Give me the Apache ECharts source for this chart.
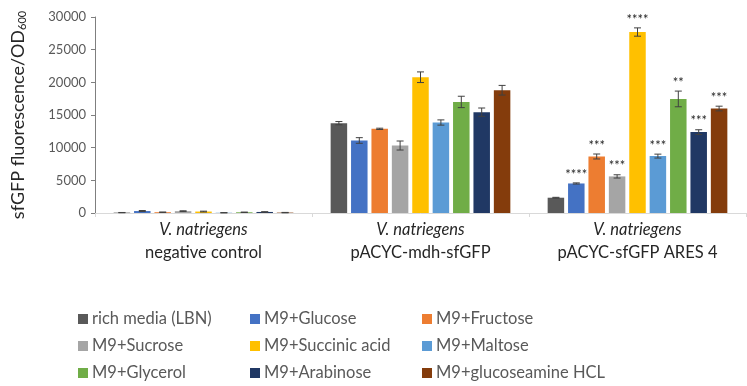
<!DOCTYPE html>
<html><head><meta charset="utf-8">
<script src="https://cdn.jsdelivr.net/npm/echarts@6/dist/echarts.min.js"></script>
<style>html,body{margin:0;padding:0;background:#fff}#c{width:747px;height:386px}</style>
</head><body><div id="c"></div>
<script>
const strainLabel = 'V. natriegens';
const categories = ['negative control', 'pACYC-mdh-sfGFP', 'pACYC-sfGFP ARES 4'];
const seriesNames = ['rich media (LBN)', 'M9+Glucose', 'M9+Fructose', 'M9+Sucrose', 'M9+Succinic acid', 'M9+Maltose', 'M9+Glycerol', 'M9+Arabinose', 'M9+glucoseamine HCL'];
const colors = ['#595959', '#4472C4', '#ED7D31', '#A5A5A5', '#FFC000', '#5B9BD5', '#70AD47', '#203864', '#843C0C'];
// values per series: [negative control, mdh, ARES 4]
const richMedia   = [60, 13750, 2340];
const glucose     = [300, 11100, 4520];
const fructose    = [120, 12880, 8650];
const sucrose     = [280, 10330, 5600];
const succinic    = [220, 20780, 27700];
const maltose     = [40, 13850, 8710];
const glycerol    = [110, 17000, 17460];
const arabinose   = [160, 15430, 12380];
const glucosamine = [60, 18790, 15990];
const values = [richMedia, glucose, fructose, sucrose, succinic, maltose, glycerol, arabinose, glucosamine];
// error (± SD)
const errRichMedia   = [20, 250, 60];
const errGlucose     = [80, 430, 90];
const errFructose    = [30, 100, 380];
const errSucrose     = [60, 690, 250];
const errSuccinic    = [60, 815, 635];
const errMaltose     = [20, 400, 300];
const errGlycerol    = [30, 870, 1200];
const errArabinose   = [40, 640, 360];
const errGlucosamine = [30, 740, 360];
const errors = [errRichMedia, errGlucose, errFructose, errSucrose, errSuccinic, errMaltose, errGlycerol, errArabinose, errGlucosamine];
// significance markers (ARES 4 group only)
const significance = ['', '****', '***', '***', '****', '***', '**', '***', '***'];
const yTicks = [0, 5000, 10000, 15000, 20000, 25000, 30000];

const FONT = 'Lato';
const TXT = '#595959';
const BAR_W = 16.5;
const GAP = 3.9;

const series = [];
values.forEach((vals, i) => {
  series.push({
    name: seriesNames[i], type: 'bar', data: vals,
    barWidth: BAR_W, barGap: (GAP / BAR_W * 100) + '%',
    itemStyle: { color: colors[i] }
  });
});
values.forEach((vals, i) => {
  const off = (i - 4) * (BAR_W + GAP);
  series.push({
    type: 'custom', silent: true, z: 5,
    data: vals.map((v, k) => [k, v, errors[i][k]]),
    renderItem: function (params, api) {
      const k = api.value(0), v = api.value(1), e = api.value(2);
      const sig = k === 2 ? significance[i] : '';
      const top = api.coord([k, v + e]);
      const bot = api.coord([k, Math.max(0, v - e)]);
      const cx = top[0] + off;
      const st = { stroke: '#404040', lineWidth: 1 };
      const ch = [
        { type: 'line', shape: { x1: cx, y1: top[1], x2: cx, y2: bot[1] }, style: st },
        { type: 'line', shape: { x1: cx - 3.5, y1: top[1], x2: cx + 3.5, y2: top[1] }, style: st },
        { type: 'line', shape: { x1: cx - 3.5, y1: bot[1], x2: cx + 3.5, y2: bot[1] }, style: st }
      ];
      if (sig) {
        ch.push({ type: 'text', style: { text: sig, x: cx, y: top[1] - 2, align: 'center', verticalAlign: 'bottom', font: '13px ' + FONT, fill: '#262626' } });
      }
      return { type: 'group', children: ch };
    }
  });
});

const legendCols = [0, 1, 2].map(c => ({
  orient: 'vertical', left: [78, 250, 422][c], top: 310, height: 100, padding: 0,
  itemWidth: 10, itemHeight: 10, itemGap: 9, icon: 'rect',
  data: [c, c + 3, c + 6].map(j => seriesNames[j]),
  textStyle: { fontFamily: FONT, fontSize: 16.5, lineHeight: 18, color: TXT, padding: [0, 0, 0, -1] }
}));

const chart = echarts.init(document.getElementById('c'), null, { renderer: 'canvas' });
chart.setOption({
  animation: false,
  textStyle: { fontFamily: FONT },
  grid: { left: 86, right: 1, top: 17, bottom: 173 },
  legend: legendCols,
  xAxis: {
    type: 'category', data: categories,
    axisLine: { lineStyle: { color: '#d9d9d9' } },
    axisTick: { show: true, length: 4, lineStyle: { color: '#d9d9d9' } },
    axisLabel: {
      interval: 0, margin: 5,
      formatter: v => '{i|' + strainLabel + '}\n{n|' + v + '}',
      rich: {
        i: { fontFamily: FONT, fontSize: 16.5, fontStyle: 'italic', color: '#262626', lineHeight: 23 },
        n: { fontFamily: FONT, fontSize: 16.5, color: '#262626', lineHeight: 23 }
      }
    }
  },
  yAxis: {
    type: 'value', min: yTicks[0], max: yTicks[yTicks.length - 1], interval: yTicks[1] - yTicks[0],
    name: '{a|sfGFP fluorescence/OD}{b|600}', nameLocation: 'middle', nameGap: 66, nameRotate: 90,
    nameTextStyle: { rich: {
      a: { fontFamily: FONT, fontSize: 18, color: '#262626', lineHeight: 22 },
      b: { fontFamily: FONT, fontSize: 11, color: '#262626', lineHeight: 22, padding: [9, 0, 0, 0] }
    } },
    axisLine: { show: true, lineStyle: { color: '#7f7f7f' } },
    axisTick: { show: true, length: 4, lineStyle: { color: '#7f7f7f' } },
    splitLine: { show: false },
    axisLabel: { fontFamily: FONT, fontSize: 13, color: TXT, margin: 9, formatter: v => String(v) }
  },
  series: series
});
</script></body></html>
